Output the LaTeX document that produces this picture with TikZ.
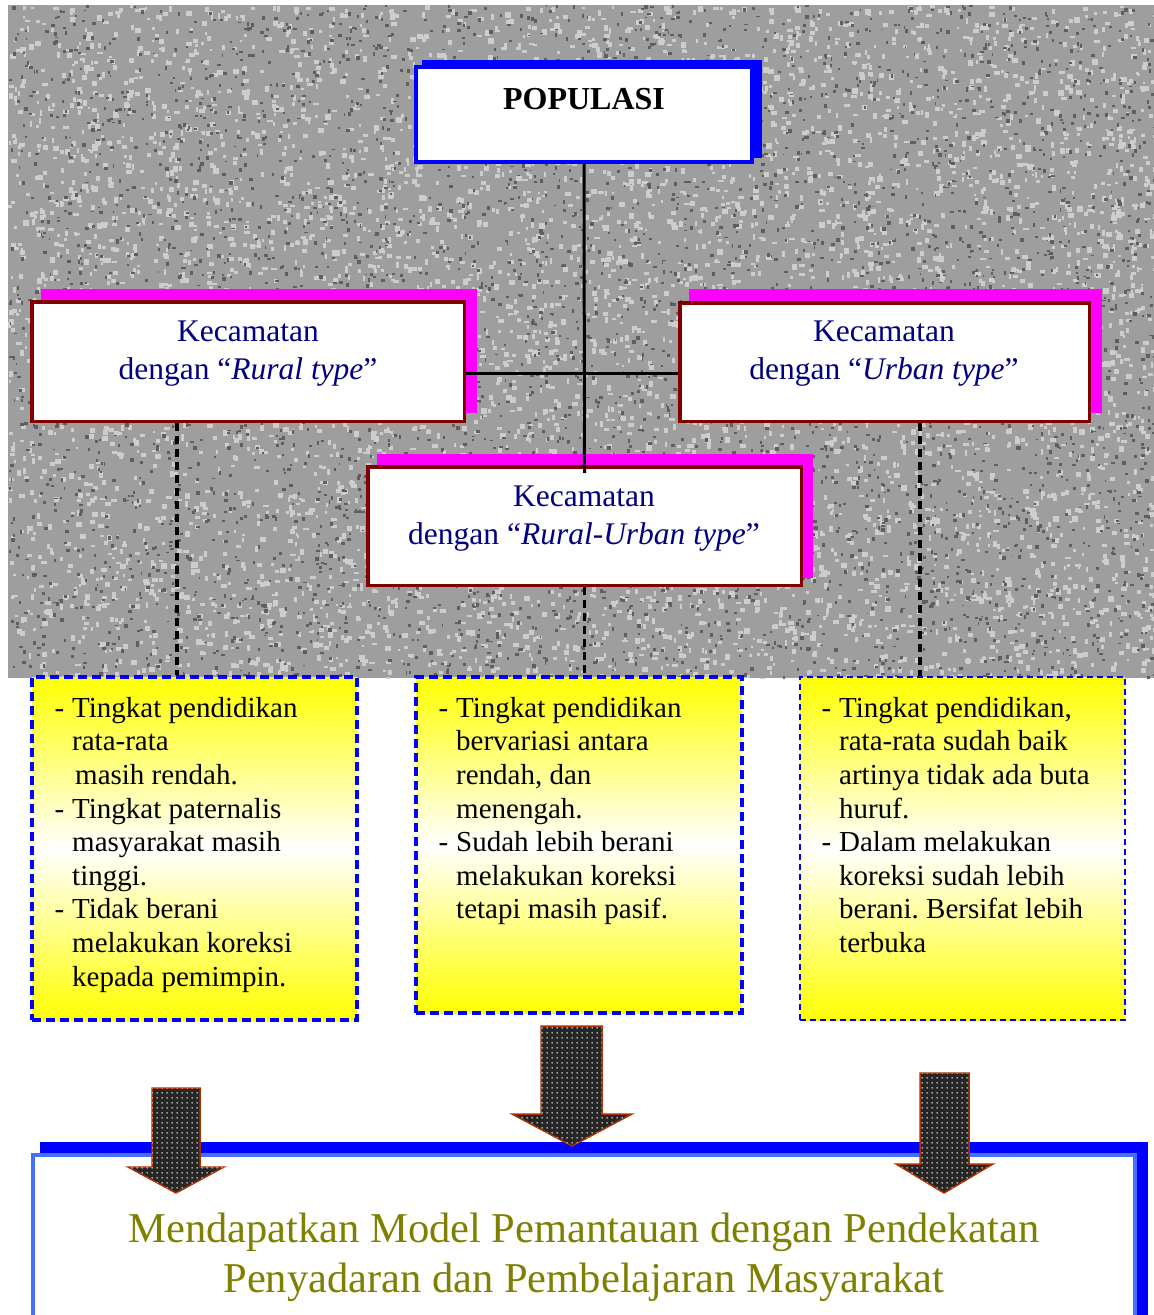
\documentclass[tikz,border=0pt]{standalone}
\usepackage{fontspec}
\setmainfont{Liberation Serif}
\usetikzlibrary{patterns,calc}
\frenchspacing

\definecolor{navytext}{RGB}{0,0,128}
\definecolor{olivetext}{RGB}{128,128,0}
\definecolor{boxred}{RGB}{128,0,0}
\definecolor{shadowpink}{RGB}{255,0,255}
\definecolor{rimblue}{RGB}{70,110,255}
\definecolor{arrowrim}{RGB}{170,50,0}
\definecolor{granite}{RGB}{158,158,158}
\definecolor{granitedark}{RGB}{95,95,95}
\definecolor{granitelight}{RGB}{205,205,205}

% small white dots on the block arrows
\pgfdeclarepatternformonly{wdots}{\pgfpointorigin}{\pgfpoint{5pt}{5pt}}{\pgfpoint{5pt}{5pt}}{%
  \pgfpathcircle{\pgfpoint{2.5pt}{2.5pt}}{1.1pt}\pgfusepath{fill}}

\newcommand{\dsh}{\llap{-\hspace{8pt}}}

\tikzset{
  kbox/.style={draw=boxred, line width=3.5pt, fill=white, inner sep=0pt},
  kshadow/.style={fill=shadowpink},
  ktext/.style={font=\fontsize{31.5}{38}\selectfont, text=navytext, align=center, inner sep=0pt},
  notebox/.style={draw=blue, dash pattern=on 9pt off 5pt, line width=3.5pt,
    top color=yellow, bottom color=yellow, middle color=white, inner sep=0pt},
  notetext/.style={font=\fontsize{29}{33.6}\selectfont, align=left, anchor=north west, inner sep=0pt},
  tree/.style={line width=3pt},
  dashconn/.style={line width=3.5pt, dash pattern=on 8pt off 5pt},
  blockarrow/.style={draw=arrowrim, line width=1.5pt, fill=black!85,
    postaction={pattern=wdots, pattern color=white!80!black}},
}

\begin{document}
\begin{tikzpicture}[x=1pt, y=-1pt]
\useasboundingbox (0,0) rectangle (1154,1315);
\clip (0,0) rectangle (1154,1315);

% granite backdrop: grey ground speckled with light and dark grains
\begin{scope}
  \clip (8,5) rectangle (1154,678);
  \fill[granite] (8,5) rectangle (1154,678);
  \pgfmathsetseed{17}
  \foreach \i in {1,...,6000}{
    \fill[granitelight] ({8+1146*rnd},{5+673*rnd}) rectangle ++({2+4*rnd},{2+4*rnd});
  }
  \foreach \i in {1,...,4500}{
    \fill[granitedark] ({8+1146*rnd},{5+673*rnd}) rectangle ++({1.5+2.5*rnd},{1.5+2.5*rnd});
  }
\end{scope}

% population box
\fill[blue] (422,60) rectangle (762,158);
\node[draw=blue, line width=4pt, fill=white, inner sep=0pt,
      minimum width=336pt, minimum height=95pt] (pop) at (584,114.5) {};
\node[font=\fontsize{32}{38}\selectfont\bfseries, anchor=base, inner sep=0pt] (poptext) at (584,109) {POPULASI};

% district boxes
\fill[kshadow] (41,289) rectangle (477,413);
\node[kbox, minimum width=432.5pt, minimum height=119.5pt] (rural) at (248,361.5) {};
\node[ktext] (ruraltext) at (248,354) {Kecamatan\\dengan ``\textit{Rural type}''};

\fill[kshadow] (689,289) rectangle (1102,413);
\node[kbox, minimum width=409.5pt, minimum height=118.5pt] (urban) at (884.5,362) {};
\node[ktext] (urbantext) at (884,354) {Kecamatan\\dengan ``\textit{Urban type}''};

\fill[kshadow] (377,454) rectangle (813,578);
\node[kbox, minimum width=433.5pt, minimum height=118.5pt] (ru) at (584.5,526) {};
\node[ktext] (rutext) at (584,519) {Kecamatan\\dengan ``\textit{Rural-Urban type}''};

% tree connectors
\draw[tree] (pop.south) -- ([yshift=-8pt]ru.north);
\draw[tree] ([yshift=-11.5pt]rural.east) -- ([yshift=-11pt]urban.west);

% note boxes
\node[notebox, minimum width=325pt, minimum height=343pt] (yl) at (194.5,848.5) {};
\node[notebox, minimum width=326pt, minimum height=336pt] (ym) at (579,845) {};
\node[notebox, line width=2.5pt, dash pattern=on 6pt off 4pt,
      minimum width=325pt, minimum height=343pt] (yr) at (962.5,848.5) {};

\draw[dashconn] (rural.south -| 177,0) -- (yl.north -| 177,0);
\draw[dashconn] (ru.south) -- (ym.north -| ru.south);
\draw[dashconn] (urban.south -| 920,0) -- (yr.north -| 920,0);

\node[notetext] (yltext) at (72,697) {\dsh Tingkat pendidikan\\rata-rata\\\hspace*{3pt}masih rendah.\\\dsh Tingkat paternalis\\masyarakat masih\\tinggi.\\\dsh Tidak berani\\melakukan koreksi\\kepada pemimpin.};
\node[notetext] (ymtext) at (456,697) {\dsh Tingkat pendidikan\\bervariasi antara\\rendah, dan\\menengah.\\\dsh Sudah lebih berani\\melakukan koreksi\\tetapi masih pasif.};
\node[notetext] (yrtext) at (839,697) {\dsh Tingkat pendidikan,\\rata-rata sudah baik\\artinya tidak ada buta\\huruf.\\\dsh Dalam melakukan\\koreksi sudah lebih\\berani. Bersifat lebih\\terbuka};

% goal box
\fill[blue] (40,1142) rectangle (1148,1340);
\node[draw=rimblue, line width=4pt, fill=white, inner sep=0pt,
      minimum width=1102pt, minimum height=185pt] (goal) at (584,1247.5) {};
\node[font=\fontsize{42.5}{50}\selectfont, text=olivetext, align=center, inner sep=0pt] (goaltext) at (584,1257)
  {Mendapatkan Model Pemantauan dengan Pendekatan\\Penyadaran dan Pembelajaran Masyarakat};

% block arrows
\filldraw[blockarrow] (152,1088) -- (200,1088) -- (200,1167) -- (224,1167) -- (176,1193)
  -- (128,1167) -- (152,1167) -- cycle;
\filldraw[blockarrow] (541,1026) -- (602,1026) -- (602,1114) -- (632,1114) -- (572,1146)
  -- (512,1114) -- (541,1114) -- cycle;
\filldraw[blockarrow] (920,1073) -- (969,1073) -- (969,1164) -- (993,1164) -- (944,1193)
  -- (896,1164) -- (920,1164) -- cycle;
\end{tikzpicture}
\end{document}
